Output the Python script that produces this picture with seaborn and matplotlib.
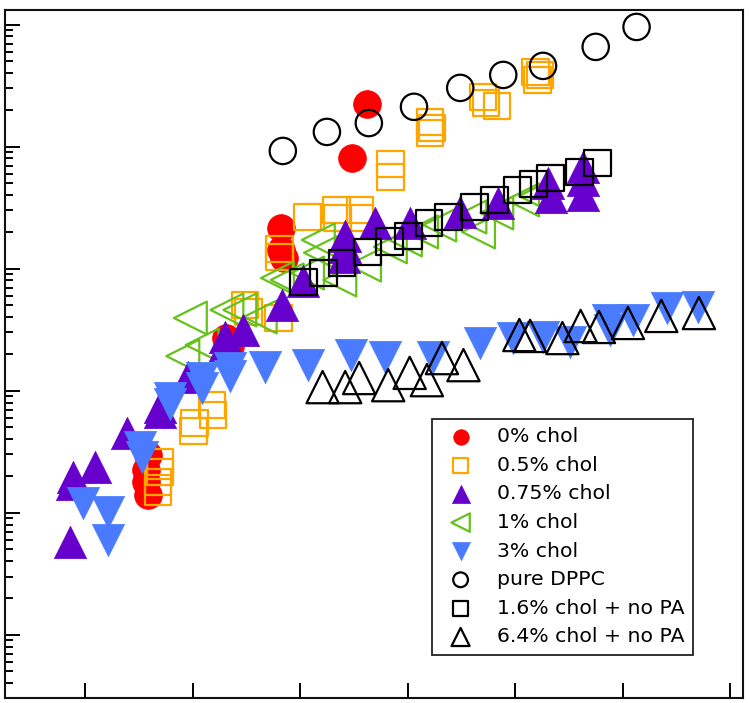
import numpy as np
import pandas as pd
import matplotlib
matplotlib.use("Agg")
import matplotlib.pyplot as plt
import seaborn as sns
from matplotlib.ticker import LogLocator, NullFormatter, FixedLocator

# values (x: linear, y: log)
chol0_x = [3.62, 3.48, 2.82, 2.82, 2.85, 2.31, 2.35, 1.59, 1.57, 1.57, 1.59]
chol0_y = [2.24e4, 8.08e3, 2.16e3, 1.42e3, 1.22e3, 270, 232, 29.7, 22.4, 17.9, 14.0]

chol05_x = [4.21, 4.23, 4.21, 4.70, 4.73, 4.83, 5.19, 5.21, 5.23, 3.84, 3.84,
            3.07, 3.34, 3.35, 3.56, 3.56, 2.81, 2.81, 2.49, 2.52, 2.80,
            2.18, 2.19, 2.02, 2.01, 1.70, 1.70, 1.68, 1.68]
chol05_y = [1.59e4, 1.42e4, 1.29e4, 2.55e4, 2.28e4, 2.16e4, 4.09e4, 3.52e4, 3.87e4, 7.21e3, 5.65e3,
            2.65e3, 3.03e3, 2.61e3, 3.03e3, 2.61e3, 1.45e3, 1.25e3, 504, 442, 394,
            76.3, 63.2, 54.3, 46.7, 26.0, 21.6, 17.9, 14.8]

chol075_x = [0.89, 0.88, 1.09, 0.86, 1.39, 1.70, 1.70, 1.96, 2.30, 2.30, 2.47, 2.83,
             3.03, 3.42, 3.42, 3.41, 3.70, 4.02, 4.49, 4.84, 5.31, 5.33, 5.63, 5.63, 5.63]
chol075_y = [19.6, 17.2, 23.7, 5.75, 45.0, 73.5, 66.9, 129, 275, 237, 315, 504,
             793, 1.85e3, 1.51e3, 1.25e3, 2.37e3, 2.37e3, 2.92e3, 3.46e3, 5.04e3, 3.87e3,
             6.82e3, 5.33e3, 4.02e3]

chol1_x = [1.98, 1.91, 2.09, 2.32, 2.44, 2.63, 2.79, 2.88, 3.07, 3.19, 3.17, 3.37,
           3.60, 3.84, 3.98, 4.13, 4.30, 4.58, 4.66, 4.83, 5.07, 5.19]
chol1_y = [394, 192, 237, 459, 459, 402, 839, 808, 922, 1.35e3, 1.72e3, 808,
           1.07e3, 1.51e3, 1.72e3, 2.0e3, 2.28e3, 2.65e3, 2.0e3, 2.86e3, 3.66e3, 3.94e3]

chol3_x = [0.98, 1.21, 1.21, 1.53, 1.51, 1.79, 1.79, 2.09, 2.09, 2.35, 2.35, 2.67,
           3.07, 3.47, 3.79, 4.24, 4.67, 4.98, 5.26, 5.51, 5.86, 5.88, 6.10, 6.41, 6.70]
chol3_y = [12.0, 10.1, 5.97, 28.6, 34.6, 87.1, 77.8, 127, 105, 153, 132, 156,
           162, 196, 189, 189, 246, 270, 275, 251, 380, 315, 380, 476, 486]

dppc_x = [2.84, 3.25, 3.64, 4.06, 4.49, 4.89, 5.26, 5.75, 6.13]
dppc_y = [9.22e3, 1.32e4, 1.56e4, 2.12e4, 3.03e4, 3.87e4, 4.59e4, 6.57e4, 9.57e4]

chol16_x = [3.03, 3.22, 3.39, 3.63, 3.83, 4.01, 4.20, 4.38, 4.62, 4.81, 5.02, 5.17,
            5.33, 5.60, 5.77]
chol16_y = [778, 922, 1.11e3, 1.37e3, 1.66e3, 1.85e3, 2.37e3, 2.65e3, 3.21e3, 3.66e3,
            4.42e3, 4.94e3, 5.54e3, 6.21e3, 7.35e3]

chol64_x = [3.21, 3.42, 3.55, 3.82, 4.02, 4.18, 4.32, 4.52, 5.04, 5.14, 5.44, 5.61,
            5.78, 6.05, 6.36, 6.71]
chol64_y = [107, 107, 127, 111, 140, 122, 185, 162, 286, 281, 270, 339, 333, 359, 410, 433]

# label, x, y, marker, colour, filled, size, zorder
series = [
    ("0% chol", chol0_x, chol0_y, "o", "#FF0000", True, 400, 2),
    ("0.5% chol", chol05_x, chol05_y, "s", "#FFA500", False, 360, 3),
    ("0.75% chol", chol075_x, chol075_y, "^", "#6600CC", True, 540, 5),
    ("1% chol", chol1_x, chol1_y, "<", "#66C21A", False, 560, 4),
    ("3% chol", chol3_x, chol3_y, "v", "#4A7BFF", True, 540, 6),
    ("pure DPPC", dppc_x, dppc_y, "o", "black", False, 360, 7),
    ("1.6% chol + no PA", chol16_x, chol16_y, "s", "black", False, 370, 8),
    ("6.4% chol + no PA", chol64_x, chol64_y, "^", "black", False, 540, 9),
]

fig = plt.figure(figsize=(7.5, 7.03), dpi=100)
ax = fig.add_axes([5 / 750, 5.5 / 703, 738 / 750, 688 / 703])

for label, xs, ys, marker, color, filled, size, z in series:
    df = pd.DataFrame({"x": xs, "y": ys})
    if filled:
        sns.scatterplot(data=df, x="x", y="y", marker=marker, color=color,
                        edgecolor=color, linewidth=0.5, s=size, label=label,
                        zorder=z, ax=ax, legend=False)
    else:
        sns.scatterplot(data=df, x="x", y="y", marker=marker, color=color,
                        facecolors="none", edgecolor=color, linewidth=1.6, s=size,
                        label=label, zorder=z, ax=ax, legend=False)

ax.set_yscale("log")
ax.set_xlim(0.256, 7.12)
ax.set_ylim(0.306, 1.33e5)
ax.xaxis.set_major_locator(FixedLocator([1, 2, 3, 4, 5, 6, 7]))
ax.yaxis.set_major_locator(LogLocator(base=10, numticks=20))
ax.yaxis.set_minor_locator(LogLocator(base=10, subs=np.arange(2, 10), numticks=20))
ax.yaxis.set_minor_formatter(NullFormatter())
ax.tick_params(axis="both", which="major", direction="in", length=11, width=1.4,
               labelbottom=False, labelleft=False, top=False, right=False)
ax.tick_params(axis="both", which="minor", direction="in", length=5.5, width=1.4,
               top=False, right=False)
ax.set_xlabel("")
ax.set_ylabel("")
for sp in ax.spines.values():
    sp.set_linewidth(1.5)
    sp.set_color("#111111")

leg = ax.legend(loc="upper left", bbox_to_anchor=(0.5786, 0.4048), borderaxespad=0,
                fontsize=14.7, markerscale=0.56, labelspacing=0.47, handletextpad=0.8,
                fancybox=False, framealpha=1, edgecolor="#222222", scatterpoints=1)
leg.get_frame().set_linewidth(1.3)

fig.savefig("out.png", dpi=100)
